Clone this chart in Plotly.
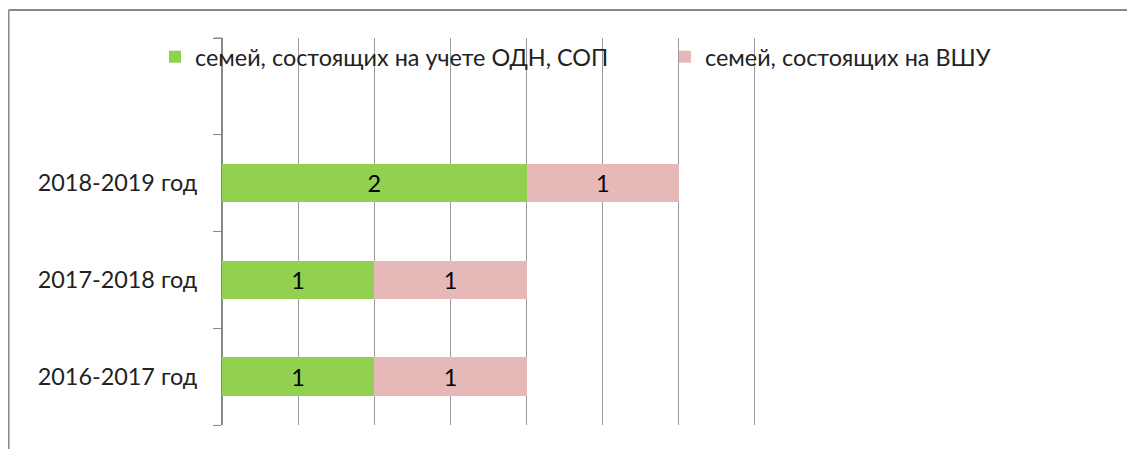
import plotly.graph_objects as go

categories = ["2016-2017 год", "2017-2018 год", "2018-2019 год"]
axis_categories = categories + [" "]
series_names = ["семей, состоящих на учете ОДН, СОП", "семей, состоящих на ВШУ"]
odn_sop = [1, 1, 2]
vshu = [1, 1, 1]
colors = ["#92D050", "#E6B9B8"]

OFF = 8  # default page body margin
XMAX = 3.5
XR = 3.52
W, H = 1135 - OFF, 449 - OFF
ml = 222 - OFF
mt = 38 - OFF
mb = H - (425 - OFF)
unit = (755 - 222) / XMAX
mr = W - ml - round(unit * XR)
pw, ph = W - ml - mr, H - mt - mb

def px_x(x):
    return (x - OFF - ml) / pw

def px_y(y):
    return (H - mb - (y - OFF)) / ph

FONT = "Lato"
FS = 23.4
fig = go.Figure()
for i, (name, vals, col) in enumerate(zip(series_names, [odn_sop, vshu], colors)):
    fig.add_trace(go.Bar(
        y=categories, x=vals, name=name, orientation="h",
        marker=dict(color=col, line=dict(width=0)),
        text=[str(v) for v in vals], textposition="inside",
        insidetextanchor="middle",
        textfont=dict(family=FONT, size=FS, color="#000000"),
        legend="legend" if i == 0 else "legend2",
    ))

leg_common = dict(orientation="h", yanchor="middle", y=px_y(57),
                  bgcolor="rgba(0,0,0,0)", xanchor="left", itemclick=False,
                  font=dict(family=FONT, size=FS, color="#222222"))

fig.update_layout(
    width=W, height=H,
    margin=dict(l=ml, r=mr, t=mt, b=mb, autoexpand=False),
    barmode="stack", bargap=0.6,
    plot_bgcolor="white", paper_bgcolor="white",
    font=dict(family=FONT, size=FS, color="#222222"),
    showlegend=True,
    legend=dict(x=px_x(155), **leg_common),
    legend2=dict(x=px_x(665), **leg_common),
    xaxis=dict(
        range=[0, XR], dtick=0.5, showgrid=True, gridcolor="#9a9a9a", gridwidth=1,
        showticklabels=False, zeroline=True, zerolinecolor="#888888", zerolinewidth=1,
        showline=False, ticks="",
    ),
    yaxis=dict(
        type="category", categoryorder="array", categoryarray=axis_categories,
        range=[-0.5, 3.5], tickson="boundaries", ticks="outside", ticklen=8,
        tickcolor="#888888", showline=True, linecolor="#888888", linewidth=1,
        showgrid=False, ticklabelstandoff=19,
        tickfont=dict(family=FONT, size=FS, color="#222222"),
    ),
    shapes=[
        dict(type="line", xref="paper", yref="paper", x0=px_x(8.5), x1=px_x(1150),
             y0=px_y(10), y1=px_y(10), line=dict(color="#888888", width=2)),
        dict(type="line", xref="paper", yref="paper", x0=px_x(8.5), x1=px_x(8.5),
             y0=px_y(10), y1=px_y(460), line=dict(color="#888888", width=2)),
        dict(type="line", xref="paper", yref="paper", x0=px_x(214), x1=px_x(222),
             y0=1, y1=1, line=dict(color="#888888", width=1)),
    ],
)

fig.write_html("out.html")
